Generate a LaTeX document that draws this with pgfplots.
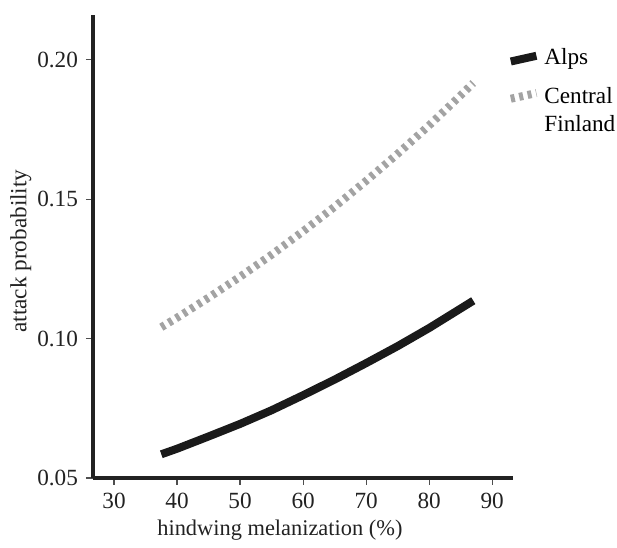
\documentclass[border=0pt]{standalone}
\usepackage{fontspec}
\setmainfont{Liberation Serif}
\usepackage{pgfplots}
\pgfplotsset{compat=1.18}

\definecolor{axisdark}{HTML}{222222}
\definecolor{alpsline}{HTML}{1A1A1A}
\definecolor{finline}{HTML}{A3A3A3}

\begin{document}
\fontsize{11.6}{13.9}\selectfont
\begin{tikzpicture}
\begin{axis}[
  name=ax,
  scale only axis,
  width=210pt,
  height=231.5pt,
  xmin=26.66, xmax=93.3,
  ymin=0.05, ymax=0.2161,
  axis x line=bottom,
  axis y line=left,
  axis line style={-, line width=2pt, color=axisdark},
  tick align=outside,
  major tick length=3.5pt,
  tick style={line width=0.6pt, color=axisdark!80},
  xtick={30,40,...,90},
  ytick={0.05,0.10,0.15,0.20},
  /pgf/number format/assume math mode=true,
  yticklabel style={/pgf/number format/fixed, /pgf/number format/fixed zerofill,
    /pgf/number format/precision=2, color=axisdark},
  xticklabel style={color=axisdark},
  scaled y ticks=false,
  xlabel={hindwing melanization (\%)},
  ylabel={attack probability},
  xlabel style={at={(ticklabel cs:0.445,-2.5pt)}, anchor=north, color=axisdark,
    font=\fontsize{11.2}{13.4}\selectfont},
  ylabel style={at={(ticklabel cs:0.49,-5pt)}, anchor=south, color=axisdark},
  legend style={draw=none, fill=none, at={(rel axis cs:0.97,0.945)}, anchor=north west,
    font=\fontsize{11.6}{13.9}\selectfont, row sep=4pt},
  legend cell align=left,
  legend image code/.code={\draw[#1] (0cm,-0.05cm) -- (0.45cm,0.05cm);},
]
\addplot[alpsline, line width=4pt] coordinates {
  (37.5,0.0585) (40,0.0605) (45,0.0649) (50,0.0694) (55,0.0743) (60,0.0797)
  (65,0.0853) (70,0.0912) (75,0.0973) (80,0.1038) (85,0.1108) (87,0.1136)
};
\addlegendentry{Alps}
\addplot[finline, line width=4pt, dash pattern=on 2pt off 2.3pt] coordinates {
  (37.5,0.1041) (40,0.1075) (45,0.1147) (50,0.1222) (55,0.1301) (60,0.1385)
  (65,0.1473) (70,0.1566) (75,0.1663) (80,0.1765) (85,0.1873) (87,0.1917)
};
\addlegendentry{\begin{tabular}[t]{@{}l@{}}Central\\Finland\end{tabular}}
\end{axis}
\pgfresetboundingbox
\path[use as bounding box] ([xshift=-46.5pt,yshift=-35pt]ax.south west)
  rectangle ([xshift=52pt,yshift=7.5pt]ax.north east);
\end{tikzpicture}
\end{document}
